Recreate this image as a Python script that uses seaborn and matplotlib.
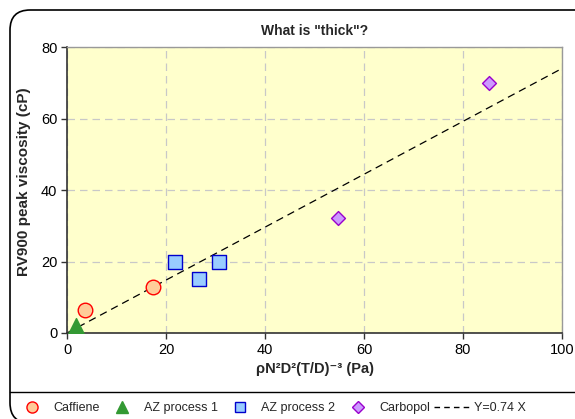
import matplotlib
matplotlib.use("Agg")
import matplotlib.pyplot as plt
import seaborn as sns
import numpy as np
import pandas as pd
from matplotlib.patches import FancyBboxPatch
from matplotlib.lines import Line2D

caff_x = [3.6, 17.4]
caff_y = [6.4, 12.9]
az1_x = [1.8]
az1_y = [2.0]
az2_x = [21.8, 26.7, 30.7]
az2_y = [19.9, 15.1, 19.9]
carb_x = [54.7, 85.3]
carb_y = [32.2, 69.9]
fit_slope = 0.74
fit_x = [0, 100]
x_ticks = [0, 20, 40, 60, 80, 100]
y_ticks = [0, 20, 40, 60, 80]

sns.set_theme(style="white")
plt.rcParams['font.family'] = ['Liberation Sans', 'DejaVu Sans']

fig = plt.figure(figsize=(5.75, 4.19), dpi=100)
W, H = 575, 419
ax = fig.add_axes([67/W, 1-333/H, (562-67)/W, (333-47)/H])
ax.set_facecolor('#FFFFCC')

# outer rounded frame (extends past right and bottom edges)
frame = FancyBboxPatch((10/W, -4/H), 600/W, (H - 10 + 4)/H,
                       boxstyle="round,pad=0,rounding_size=0.035",
                       transform=fig.transFigure, fill=False, edgecolor='black', linewidth=1.2,
                       clip_on=False, mutation_aspect=W/H)
fig.patches.append(frame)
fig.add_artist(Line2D([10/W, 1.0], [1-392/H, 1-392/H], color='black', linewidth=1.0,
                      transform=fig.transFigure))

fit_y = [fit_slope * v for v in fit_x]
sns.lineplot(x=fit_x, y=fit_y, ax=ax, color='black', linestyle=(0, (6, 4)), linewidth=0.9,
             label='Y=0.74 X', legend=False, zorder=2)
sns.scatterplot(x=caff_x, y=caff_y, ax=ax, marker='o', s=110, color='#FFCC99',
                edgecolor='#FF0000', linewidth=1.0, label='Caffiene', legend=False, zorder=3)
sns.scatterplot(x=az1_x, y=az1_y, ax=ax, marker='^', s=130, color='#339933',
                edgecolor='#339933', linewidth=1.0, label='AZ process 1', legend=False, zorder=3)
sns.scatterplot(x=az2_x, y=az2_y, ax=ax, marker='s', s=95, color='#99CCFF',
                edgecolor='#0000CC', linewidth=1.0, label='AZ process 2', legend=False, zorder=3)
sns.scatterplot(x=carb_x, y=carb_y, ax=ax, marker='D', s=50, color='#CC99FF',
                edgecolor='#9900CC', linewidth=1.0, label='Carbopol', legend=False, zorder=3)

ax.set_xlim(0, 100)
ax.set_ylim(0, 80)
ax.set_xticks(x_ticks)
ax.set_yticks(y_ticks)
ax.grid(True, color='#C8C8C8', linestyle=(0, (6, 4)), linewidth=0.9)
ax.set_axisbelow(True)
for s in ['top', 'right']:
    ax.spines[s].set_color('#999999')
    ax.spines[s].set_linewidth(1.0)
for s in ['left', 'bottom']:
    ax.spines[s].set_color('#333333')
    ax.spines[s].set_linewidth(1.2)
ax.tick_params(axis='both', which='major', direction='out', length=4, width=1,
               color='#333333', labelsize=10.5, labelcolor='black', pad=3, bottom=True, left=True)

ax.set_title('What is "thick"?', fontsize=10, fontweight='bold', pad=9)
ax.set_ylabel('RV900 peak viscosity (cP)', fontsize=11, fontweight='bold')
ax.yaxis.set_label_coords(-0.073, 0.53)
ax.set_xlabel('ρN²D²(T/D)⁻³ (Pa)', fontsize=10.5, fontweight='bold', labelpad=4)

handles = [
    Line2D([], [], marker='o', linestyle='none', markersize=8, markerfacecolor='#FFCC99', markeredgecolor='#FF0000'),
    Line2D([], [], marker='^', linestyle='none', markersize=9, markerfacecolor='#339933', markeredgecolor='#339933'),
    Line2D([], [], marker='s', linestyle='none', markersize=7, markerfacecolor='#99CCFF', markeredgecolor='#0000CC'),
    Line2D([], [], marker='D', linestyle='none', markersize=6, markerfacecolor='#CC99FF', markeredgecolor='#9900CC'),
    Line2D([], [], color='black', linestyle=(0, (4, 3)), linewidth=1.0),
]
labels = ['Caffiene', 'AZ process 1', 'AZ process 2', 'Carbopol', 'Y=0.74 X']
fig.legend(handles, labels, loc='center left', bbox_to_anchor=(14/W, 1-408/H), ncol=5,
           frameon=False, fontsize=9, handlelength=2.9, handletextpad=0.25, columnspacing=0.35,
           borderaxespad=0, borderpad=0)

fig.savefig('out.png', dpi=100)
